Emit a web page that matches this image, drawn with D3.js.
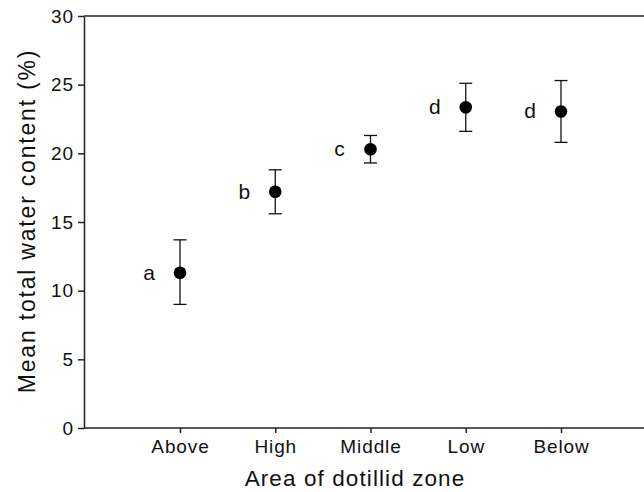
<!DOCTYPE html>
<html>
<head>
<meta charset="utf-8">
<script src="https://cdn.jsdelivr.net/npm/d3@7"></script>
<style>
  body { margin: 0; background: #fff; }
  svg { font-family: "Liberation Sans", Arial, Helvetica, sans-serif; }
</style>
</head>
<body>
<svg id="chart" width="644" height="492"></svg>
<script>
// Data
var zones = ['Above', 'High', 'Middle', 'Low', 'Below'];
var means = [11.3, 17.2, 20.3, 23.35, 23.05];
var lower = [9.0, 15.6, 19.3, 21.6, 20.8];
var upper = [13.7, 18.8, 21.3, 25.1, 25.3];
var groups = ['a', 'b', 'c', 'd', 'd'];
var yTicks = [0, 5, 10, 15, 20, 25, 30];

var svg = d3.select('#chart');
var plotLeft = 84, plotRight = 644, plotTop = 16, plotBottom = 428;

// Scales:
var xScale = d3.scalePoint().domain(zones).range([180, 561]);
var yScale = d3.scaleLinear().domain([0, 30]).range([plotBottom, plotTop]);

var data = d3.zip(zones, means, lower, upper, groups);

// Top line of the frame runs to the right edge
svg.append('line').attr('x1', plotLeft).attr('x2', plotRight)
   .attr('y1', plotTop).attr('y2', plotTop)
   .attr('stroke', '#222').attr('stroke-width', 1.5);

// Axes:
var yAxis = svg.append('g').attr('transform', 'translate(' + plotLeft + ',0)')
               .call(d3.axisLeft(yScale).tickValues(yTicks).tickSize(6).tickPadding(4).tickSizeOuter(0));
var xAxis = svg.append('g').attr('transform', 'translate(0,' + plotBottom + ')')
               .call(d3.axisBottom(xScale).tickSize(5).tickPadding(7).tickSizeOuter(0));
xAxis.select('.domain').attr('d', 'M' + plotLeft + ',0H' + plotRight);

[xAxis, yAxis].forEach(function(ax) {
    ax.selectAll('.domain, .tick line').attr('stroke', '#222').attr('stroke-width', 1.5);
    ax.selectAll('.tick text').attr('fill', '#111')
      .style('font-size', '19px').style('letter-spacing', '0.9px');
});

// Error bars:
var bars = svg.append('g').selectAll('g').data(data).enter().append('g');
bars.append('line')
    .attr('x1', d => xScale(d[0])).attr('x2', d => xScale(d[0]))
    .attr('y1', d => yScale(d[2])).attr('y2', d => yScale(d[3]))
    .attr('stroke', '#111').attr('stroke-width', 1.3);
bars.selectAll('line.cap').data(d => [[d[0], d[2]], [d[0], d[3]]]).enter()
    .append('line').classed('cap', true)
    .attr('x1', d => xScale(d[0]) - 6.5).attr('x2', d => xScale(d[0]) + 6.5)
    .attr('y1', d => yScale(d[1])).attr('y2', d => yScale(d[1]))
    .attr('stroke', '#111').attr('stroke-width', 1.3);
bars.append('circle')
    .attr('cx', d => xScale(d[0])).attr('cy', d => yScale(d[1]))
    .attr('r', 6.3).attr('fill', '#000');
bars.append('text')
    .attr('x', d => xScale(d[0]) - 31).attr('y', d => yScale(d[1]) + 7)
    .attr('text-anchor', 'middle').style('font-size', '21px').attr('fill', '#111')
    .text(d => d[4]);

// Axis titles:
svg.append('text').attr('x', 355).attr('y', 486)
   .attr('text-anchor', 'middle').style('font-size', '22.5px')
   .style('letter-spacing', '1.1px').attr('fill', '#111')
   .text('Area of dotillid zone');
svg.append('text').attr('transform', 'translate(35,221) rotate(-90)')
   .attr('text-anchor', 'middle').style('font-size', '23px')
   .style('letter-spacing', '1.8px').attr('fill', '#111')
   .text('Mean total water content (%)');
</script>
</body>
</html>
